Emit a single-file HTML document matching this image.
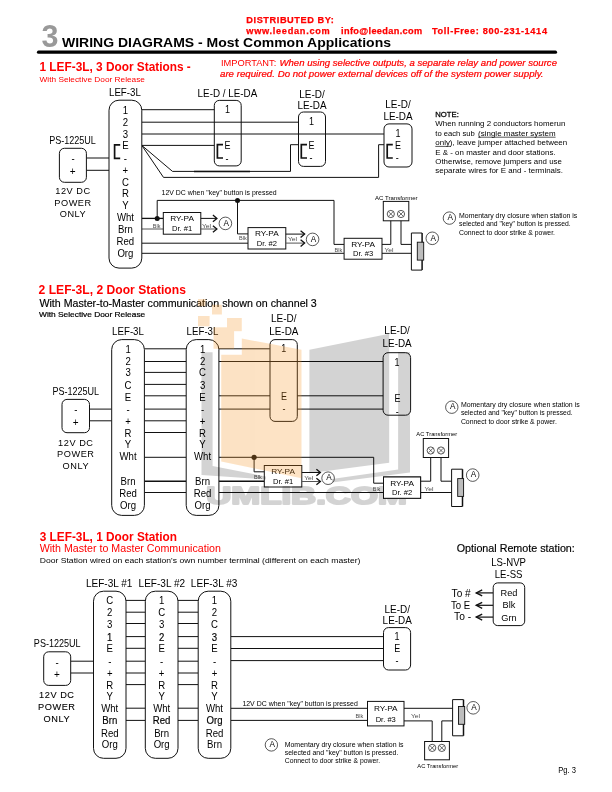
<!DOCTYPE html>
<html><head><meta charset="utf-8"><style>
html,body{margin:0;padding:0;background:#fff;}
svg{display:block;will-change:transform;}
text{font-family:"Liberation Sans", sans-serif;}
</style></head><body>
<svg width="612" height="792" viewBox="0 0 612 792" font-family='"Liberation Sans", sans-serif'>
<rect x="0" y="0" width="612" height="792" fill="#fff"/>
<text x="41.5" y="47.4" font-size="30.5" font-weight="bold" fill="#999">3</text>
<text x="62" y="46.8" font-size="13.4" font-weight="bold" textLength="329" lengthAdjust="spacingAndGlyphs">WIRING DIAGRAMS - Most Common Applications</text>
<line x1="38.5" y1="52.2" x2="555.5" y2="52.2" stroke="#000" stroke-width="3.2" stroke-linecap="round"/>
<text x="246.3" y="22.8" font-size="9.2" stroke="#ff0000" stroke-width="0.25" font-weight="bold" fill="#ff0000" textLength="87.6" lengthAdjust="spacing">DISTRIBUTED BY:</text>
<text x="246.3" y="33.7" font-size="9.2" stroke="#ff0000" stroke-width="0.25" font-weight="bold" fill="#ff0000" textLength="83.4" lengthAdjust="spacing">www.leedan.com</text>
<text x="341.1" y="33.7" font-size="9.2" stroke="#ff0000" stroke-width="0.25" font-weight="bold" fill="#ff0000" textLength="81" lengthAdjust="spacing">info@leedan.com</text>
<text x="432" y="33.7" font-size="9.2" stroke="#ff0000" stroke-width="0.25" font-weight="bold" fill="#ff0000" textLength="115" lengthAdjust="spacing">Toll-Free: 800-231-1414</text>
<text x="39.5" y="71" font-size="12.6" font-weight="bold" fill="#ff0000" textLength="151.3" lengthAdjust="spacingAndGlyphs">1 LEF-3L, 3 Door Stations -</text>
<text x="39.5" y="81.6" font-size="6.6" fill="#ff0000" textLength="105.5" lengthAdjust="spacingAndGlyphs">With Selective Door Release</text>
<text x="220.9" y="65.6" font-size="8.4" fill="#ff0000" textLength="55.4" lengthAdjust="spacingAndGlyphs">IMPORTANT:</text>
<text x="279.5" y="65.6" font-size="8.4" stroke="#ff0000" stroke-width="0.2" fill="#ff0000" font-style="italic" textLength="277.5" lengthAdjust="spacingAndGlyphs">When using selective outputs, a separate relay and power source</text>
<text x="220" y="77.3" font-size="8.4" stroke="#ff0000" stroke-width="0.2" fill="#ff0000" font-style="italic" textLength="323.5" lengthAdjust="spacingAndGlyphs">are required. Do not power external devices off of the system power supply.</text>
<line x1="86.4" y1="158" x2="109" y2="158" stroke="#111" stroke-width="1"/>
<line x1="86.4" y1="170.3" x2="109" y2="170.3" stroke="#111" stroke-width="1"/>
<line x1="141.8" y1="109.7" x2="214.3" y2="109.7" stroke="#111" stroke-width="1"/>
<line x1="141.8" y1="122.2" x2="298.5" y2="122.2" stroke="#111" stroke-width="1"/>
<line x1="141.8" y1="134" x2="384" y2="134" stroke="#111" stroke-width="1"/>
<line x1="141.8" y1="145.4" x2="214.3" y2="145.4" stroke="#111" stroke-width="1"/>
<polyline points="141.8,145.4 172.5,171.4 290.5,171.4 290.5,144.7 298.5,144.7" fill="none" stroke="#111" stroke-width="1" stroke-linejoin="miter"/>
<line x1="194" y1="171.4" x2="250" y2="171.4" stroke="#111" stroke-width="1.5"/>
<polyline points="141.8,145.4 163.5,177.4 378.6,177.4 378.6,144.7 384,144.7" fill="none" stroke="#111" stroke-width="1" stroke-linejoin="miter"/>
<polyline points="157.2,218.4 157.2,200.4 334,200.4 334,244.4 344.1,244.4" fill="none" stroke="#111" stroke-width="1" stroke-linejoin="miter"/>
<polyline points="237.5,200.4 237.5,233.9 248,233.9" fill="none" stroke="#111" stroke-width="1" stroke-linejoin="miter"/>
<line x1="141.8" y1="218.4" x2="163.3" y2="218.4" stroke="#111" stroke-width="1.3"/>
<line x1="141.8" y1="229" x2="163.3" y2="229" stroke="#555" stroke-width="1"/>
<line x1="141.8" y1="243.2" x2="248" y2="243.2" stroke="#111" stroke-width="1"/>
<line x1="141.8" y1="253.3" x2="344.1" y2="253.3" stroke="#111" stroke-width="1"/>
<circle cx="157.2" cy="218.4" r="2.5" fill="#111"/>
<circle cx="237.5" cy="200.4" r="2.5" fill="#111"/>
<rect x="109" y="100.2" width="32.8" height="167.9" rx="10" fill="#fff" stroke="#111" stroke-width="1"/>
<text transform="translate(125.4,113.59) scale(1,1.07)" x="0" y="0" font-size="9.6" text-anchor="middle">1</text>
<text transform="translate(125.4,125.89) scale(1,1.07)" x="0" y="0" font-size="9.6" text-anchor="middle">2</text>
<text transform="translate(125.4,137.59) scale(1,1.07)" x="0" y="0" font-size="9.6" text-anchor="middle">3</text>
<text transform="translate(125.4,149.09) scale(1,1.07)" x="0" y="0" font-size="9.6" text-anchor="middle">E</text>
<text transform="translate(125.4,162.09) scale(1,1.07)" x="0" y="0" font-size="9.6" text-anchor="middle">-</text>
<text transform="translate(125.4,174.39) scale(1,1.07)" x="0" y="0" font-size="9.6" text-anchor="middle">+</text>
<text transform="translate(125.4,185.99) scale(1,1.07)" x="0" y="0" font-size="9.6" text-anchor="middle">C</text>
<text transform="translate(125.4,197.49) scale(1,1.07)" x="0" y="0" font-size="9.6" text-anchor="middle">R</text>
<text transform="translate(125.4,208.99) scale(1,1.07)" x="0" y="0" font-size="9.6" text-anchor="middle">Y</text>
<text transform="translate(125.4,221.19) scale(1,1.07)" x="0" y="0" font-size="9.6" text-anchor="middle">Wht</text>
<text transform="translate(125.4,233.49) scale(1,1.07)" x="0" y="0" font-size="9.6" text-anchor="middle">Brn</text>
<text transform="translate(125.4,245.29) scale(1,1.07)" x="0" y="0" font-size="9.6" text-anchor="middle">Red</text>
<text transform="translate(125.4,257.49) scale(1,1.07)" x="0" y="0" font-size="9.6" text-anchor="middle">Org</text>
<polyline points="120.2,144.8 114.6,144.8 114.6,158.3 120.2,158.3" fill="none" stroke="#111" stroke-width="1.7" stroke-linejoin="miter"/>
<text transform="translate(124.9,95.83) scale(1,1.14)" x="0" y="0" font-size="9.6" text-anchor="middle" textLength="31.8" lengthAdjust="spacingAndGlyphs">LEF-3L</text>
<rect x="59.4" y="148.3" width="27.0" height="34.0" rx="5" fill="#fff" stroke="#111" stroke-width="1"/>
<text transform="translate(73,162.03) scale(1,1.14)" x="0" y="0" font-size="9.6" text-anchor="middle">-</text>
<text transform="translate(72.6,175.28) scale(1,1.14)" x="0" y="0" font-size="10" text-anchor="middle">+</text>
<text transform="translate(72.5,144.34) scale(1,1.12)" x="0" y="0" font-size="9.8" text-anchor="middle" textLength="46.7" lengthAdjust="spacingAndGlyphs">PS-1225UL</text>
<text transform="translate(73,193.65) scale(1,1.04)" x="0" y="0" font-size="9.2" text-anchor="middle" letter-spacing="0.55">12V DC</text>
<text transform="translate(73,205.55) scale(1,1.04)" x="0" y="0" font-size="9.2" text-anchor="middle" letter-spacing="0.55">POWER</text>
<text transform="translate(73,217.05) scale(1,1.04)" x="0" y="0" font-size="9.2" text-anchor="middle" letter-spacing="0.55">ONLY</text>
<rect x="214.3" y="100.4" width="26.9" height="65.5" rx="5" fill="none" stroke="#111" stroke-width="1"/>
<text transform="translate(227.5,112.79) scale(1,1.14)" x="0" y="0" font-size="9" text-anchor="middle">1</text>
<text transform="translate(227.6,149.09) scale(1,1.14)" x="0" y="0" font-size="9" text-anchor="middle">E</text>
<text transform="translate(227,161.59) scale(1,1.14)" x="0" y="0" font-size="9" text-anchor="middle">-</text>
<polyline points="223,144.6 217.4,144.6 217.4,158 223,158" fill="none" stroke="#111" stroke-width="1.7" stroke-linejoin="miter"/>
<text transform="translate(227.4,96.83) scale(1,1.14)" x="0" y="0" font-size="9.6" text-anchor="middle" textLength="59.6" lengthAdjust="spacingAndGlyphs">LE-D / LE-DA</text>
<rect x="298.5" y="112" width="27.0" height="54.4" rx="5" fill="none" stroke="#111" stroke-width="1"/>
<text transform="translate(311.6,125.29) scale(1,1.14)" x="0" y="0" font-size="9" text-anchor="middle">1</text>
<text transform="translate(311.4,148.79) scale(1,1.14)" x="0" y="0" font-size="9" text-anchor="middle">E</text>
<text transform="translate(311,161.09) scale(1,1.14)" x="0" y="0" font-size="9" text-anchor="middle">-</text>
<polyline points="307,144.6 301.3,144.6 301.3,158 307,158" fill="none" stroke="#111" stroke-width="1.7" stroke-linejoin="miter"/>
<text transform="translate(312,98.33) scale(1,1.14)" x="0" y="0" font-size="9.6" text-anchor="middle" textLength="25.5" lengthAdjust="spacingAndGlyphs">LE-D/</text>
<text transform="translate(312,109.43) scale(1,1.14)" x="0" y="0" font-size="9.6" text-anchor="middle" textLength="29.2" lengthAdjust="spacingAndGlyphs">LE-DA</text>
<rect x="384" y="123.9" width="28" height="43.1" rx="5" fill="none" stroke="#111" stroke-width="1"/>
<text transform="translate(398,136.89) scale(1,1.14)" x="0" y="0" font-size="9" text-anchor="middle">1</text>
<text transform="translate(397.9,149.29) scale(1,1.14)" x="0" y="0" font-size="9" text-anchor="middle">E</text>
<text transform="translate(397.3,161.49) scale(1,1.14)" x="0" y="0" font-size="9" text-anchor="middle">-</text>
<polyline points="392.8,144.6 387.2,144.6 387.2,158 392.8,158" fill="none" stroke="#111" stroke-width="1.7" stroke-linejoin="miter"/>
<text transform="translate(398,107.83) scale(1,1.14)" x="0" y="0" font-size="9.6" text-anchor="middle" textLength="25.5" lengthAdjust="spacingAndGlyphs">LE-D/</text>
<text transform="translate(398,119.73) scale(1,1.14)" x="0" y="0" font-size="9.6" text-anchor="middle" textLength="29.2" lengthAdjust="spacingAndGlyphs">LE-DA</text>
<text transform="translate(435.3,116.9) scale(1,1.075)" x="0" y="0" font-size="7.3" stroke="#000" stroke-width="0.25" textLength="23.5" lengthAdjust="spacingAndGlyphs">NOTE:</text>
<text transform="translate(435.3,126) scale(1,1.075)" x="0" y="0" font-size="7.3" textLength="130" lengthAdjust="spacingAndGlyphs">When running 2 conductors homerun</text>
<text transform="translate(435.3,136.1) scale(1,1.075)" x="0" y="0" font-size="7.3" textLength="39.5" lengthAdjust="spacingAndGlyphs">to each sub</text>
<text transform="translate(478.1,136.1) scale(1,1.075)" x="0" y="0" font-size="7.3" textLength="77.5" lengthAdjust="spacingAndGlyphs">(single master system</text>
<line x1="478.1" y1="137.2" x2="555.6" y2="137.2" stroke="#111" stroke-width="0.7"/>
<text transform="translate(435.3,145.4) scale(1,1.075)" x="0" y="0" font-size="7.3" textLength="131.9" lengthAdjust="spacingAndGlyphs">only), leave jumper attached between</text>
<line x1="435.3" y1="146.4" x2="450.9" y2="146.4" stroke="#111" stroke-width="0.7"/>
<text transform="translate(435.3,154.7) scale(1,1.075)" x="0" y="0" font-size="7.3" textLength="120.3" lengthAdjust="spacingAndGlyphs">E &amp; - on master and door stations.</text>
<text transform="translate(435.3,164) scale(1,1.075)" x="0" y="0" font-size="7.3" textLength="126.6" lengthAdjust="spacingAndGlyphs">Otherwise, remove jumpers and use</text>
<text transform="translate(435.3,173.3) scale(1,1.075)" x="0" y="0" font-size="7.3" textLength="127.7" lengthAdjust="spacingAndGlyphs">separate wires for E and - terminals.</text>
<text x="161.6" y="195.2" font-size="6.3" textLength="115" lengthAdjust="spacingAndGlyphs">12V DC when "key" button is pressed</text>
<rect x="163.3" y="212.5" width="37.5" height="21.7" rx="0" fill="#fff" stroke="#111" stroke-width="1"/>
<text x="182.05" y="221.18" font-size="7.6" text-anchor="middle" textLength="23.7" lengthAdjust="spacingAndGlyphs">RY-PA</text>
<text x="182.05" y="230.73" font-size="7.6" text-anchor="middle" textLength="20.2" lengthAdjust="spacingAndGlyphs">Dr. #1</text>
<line x1="200.8" y1="218.4" x2="216.9" y2="218.4" stroke="#111" stroke-width="1"/>
<polyline points="212.9,215.1 216.9,218.4 212.9,221.70000000000002" fill="none" stroke="#111" stroke-width="1.3" stroke-linejoin="miter"/>
<line x1="200.8" y1="229" x2="216.9" y2="229" stroke="#555" stroke-width="1"/>
<polyline points="212.9,225.7 216.9,229 212.9,232.3" fill="none" stroke="#111" stroke-width="1.3" stroke-linejoin="miter"/>
<text x="152.8" y="227.7" font-size="5.8" fill="#4a4a4a" textLength="7.7" lengthAdjust="spacingAndGlyphs">Blk</text>
<text x="202" y="227.7" font-size="5.8" fill="#4a4a4a" textLength="9.1" lengthAdjust="spacingAndGlyphs">Yel</text>
<circle cx="225.4" cy="223.4" r="6.3" fill="#fff" stroke="#111" stroke-width="0.7"/>
<text x="226.3" y="225.68" font-size="8.2" text-anchor="middle">A</text>
<rect x="248" y="227.6" width="37.8" height="21.4" rx="0" fill="#fff" stroke="#111" stroke-width="1"/>
<text x="266.9" y="236.16" font-size="7.6" text-anchor="middle" textLength="23.7" lengthAdjust="spacingAndGlyphs">RY-PA</text>
<text x="266.9" y="245.58" font-size="7.6" text-anchor="middle" textLength="20.2" lengthAdjust="spacingAndGlyphs">Dr. #2</text>
<line x1="285.8" y1="234.1" x2="304.6" y2="234.1" stroke="#111" stroke-width="1"/>
<polyline points="300.6,230.79999999999998 304.6,234.1 300.6,237.4" fill="none" stroke="#111" stroke-width="1.3" stroke-linejoin="miter"/>
<line x1="285.8" y1="243.1" x2="304.6" y2="243.1" stroke="#555" stroke-width="1"/>
<polyline points="300.6,239.79999999999998 304.6,243.1 300.6,246.4" fill="none" stroke="#111" stroke-width="1.3" stroke-linejoin="miter"/>
<text x="239" y="240" font-size="5.8" fill="#4a4a4a" textLength="7.7" lengthAdjust="spacingAndGlyphs">Blk</text>
<text x="288" y="240.8" font-size="5.8" fill="#4a4a4a" textLength="9.1" lengthAdjust="spacingAndGlyphs">Yel</text>
<circle cx="312.6" cy="239.4" r="6.3" fill="#fff" stroke="#111" stroke-width="0.7"/>
<text x="313.5" y="241.68" font-size="8.2" text-anchor="middle">A</text>
<rect x="344.1" y="238.3" width="37.9" height="20.9" rx="0" fill="#fff" stroke="#111" stroke-width="1"/>
<text x="363.05" y="246.66" font-size="7.6" text-anchor="middle" textLength="23.7" lengthAdjust="spacingAndGlyphs">RY-PA</text>
<text x="363.05" y="255.86" font-size="7.6" text-anchor="middle" textLength="20.2" lengthAdjust="spacingAndGlyphs">Dr. #3</text>
<text x="334.5" y="251.5" font-size="5.8" fill="#4a4a4a" textLength="7.7" lengthAdjust="spacingAndGlyphs">Blk</text>
<text x="384.5" y="251.5" font-size="5.8" fill="#4a4a4a" textLength="9.1" lengthAdjust="spacingAndGlyphs">Yel</text>
<polyline points="382,244.4 390.8,244.4 390.8,217.6" fill="none" stroke="#111" stroke-width="1" stroke-linejoin="miter"/>
<polyline points="401,217.6 401,244.4 411.4,244.4" fill="none" stroke="#111" stroke-width="1" stroke-linejoin="miter"/>
<line x1="382" y1="253.3" x2="411.4" y2="253.3" stroke="#111" stroke-width="1"/>
<rect x="383.3" y="201.4" width="25.5" height="19.4" rx="0" fill="#fff" stroke="#111" stroke-width="1"/>
<circle cx="390.8" cy="214" r="3.6" fill="#fff" stroke="#111" stroke-width="0.7"/>
<line x1="388.568" y1="211.768" x2="393.03200000000004" y2="216.232" stroke="#111" stroke-width="0.6"/>
<line x1="388.568" y1="216.232" x2="393.03200000000004" y2="211.768" stroke="#111" stroke-width="0.6"/>
<circle cx="401" cy="214" r="3.6" fill="#fff" stroke="#111" stroke-width="0.7"/>
<line x1="398.768" y1="211.768" x2="403.232" y2="216.232" stroke="#111" stroke-width="0.6"/>
<line x1="398.768" y1="216.232" x2="403.232" y2="211.768" stroke="#111" stroke-width="0.6"/>
<text x="375" y="199.6" font-size="5.8" textLength="42.6" lengthAdjust="spacingAndGlyphs">AC Transformer</text>
<polyline points="411.4,233 422.1,233" fill="none" stroke="#111" stroke-width="1" stroke-linejoin="miter"/>
<polyline points="411.4,270.1 422.1,270.1" fill="none" stroke="#111" stroke-width="1" stroke-linejoin="miter"/>
<line x1="411.4" y1="233" x2="411.4" y2="270.1" stroke="#111" stroke-width="1"/>
<line x1="422.1" y1="233" x2="422.1" y2="270.1" stroke="#111" stroke-width="1.5"/>
<rect x="417.3" y="242.2" width="6.4" height="17.9" rx="0" fill="#bdbdbd" stroke="#111" stroke-width="0.9"/>
<circle cx="432.3" cy="238.3" r="6.3" fill="#fff" stroke="#111" stroke-width="0.7"/>
<text x="433.2" y="240.58" font-size="8.2" text-anchor="middle">A</text>
<circle cx="449.4" cy="218.1" r="6.2" fill="#fff" stroke="#111" stroke-width="0.7"/>
<text x="450.29999999999995" y="220.38" font-size="8.2" text-anchor="middle">A</text>
<text transform="translate(459,218.1) scale(1,1.14)" x="0" y="0" font-size="7" textLength="118.3" lengthAdjust="spacingAndGlyphs">Momentary dry closure when station is</text>
<text transform="translate(459,225.9) scale(1,1.14)" x="0" y="0" font-size="7" textLength="111.7" lengthAdjust="spacingAndGlyphs">selected and "key" button is pressed.</text>
<text transform="translate(459,234.8) scale(1,1.14)" x="0" y="0" font-size="7" textLength="96" lengthAdjust="spacingAndGlyphs">Connect to door strike &amp; power.</text>
<text x="38.6" y="294" font-size="12.6" font-weight="bold" fill="#ff0000" textLength="147.3" lengthAdjust="spacingAndGlyphs">2 LEF-3L, 2 Door Stations</text>
<text transform="translate(39.4,307) scale(1,1.07)" x="0" y="0" font-size="9.6" stroke="#000" stroke-width="0.15" textLength="277.4" lengthAdjust="spacingAndGlyphs">With Master-to-Master communication shown on channel 3</text>
<text transform="translate(39,316.8) scale(1,1.14)" x="0" y="0" font-size="6.6" stroke="#000" stroke-width="0.18" textLength="106.2" lengthAdjust="spacingAndGlyphs">With Selective Door Release</text>
<line x1="89.5" y1="409.1" x2="111.7" y2="409.1" stroke="#111" stroke-width="1"/>
<line x1="89.5" y1="420.8" x2="111.7" y2="420.8" stroke="#111" stroke-width="1"/>
<line x1="144.4" y1="348.8" x2="186.2" y2="348.8" stroke="#111" stroke-width="1"/>
<line x1="144.4" y1="361.5" x2="186.2" y2="361.5" stroke="#111" stroke-width="1"/>
<line x1="144.4" y1="372.4" x2="186.2" y2="372.4" stroke="#111" stroke-width="1"/>
<line x1="144.4" y1="384.4" x2="186.2" y2="384.4" stroke="#111" stroke-width="1"/>
<line x1="144.4" y1="395.8" x2="186.2" y2="395.8" stroke="#111" stroke-width="1"/>
<line x1="144.4" y1="409.1" x2="186.2" y2="409.1" stroke="#111" stroke-width="1"/>
<line x1="144.4" y1="420.8" x2="186.2" y2="420.8" stroke="#111" stroke-width="1"/>
<line x1="144.4" y1="432.5" x2="186.2" y2="432.5" stroke="#111" stroke-width="1"/>
<line x1="218.9" y1="348.8" x2="269.8" y2="348.8" stroke="#111" stroke-width="1"/>
<line x1="218.9" y1="361.5" x2="383.1" y2="361.5" stroke="#111" stroke-width="1"/>
<line x1="218.9" y1="395.8" x2="270" y2="395.8" stroke="#111" stroke-width="1"/>
<line x1="297.3" y1="395.8" x2="383.1" y2="395.8" stroke="#111" stroke-width="1"/>
<line x1="218.9" y1="409.1" x2="270" y2="409.1" stroke="#111" stroke-width="1"/>
<line x1="297.3" y1="409.1" x2="383.1" y2="409.1" stroke="#111" stroke-width="1"/>
<line x1="144.4" y1="457.3" x2="186.2" y2="457.3" stroke="#111" stroke-width="1"/>
<polyline points="218.9,457.3 373.7,457.3 373.7,483.2 383.5,483.2" fill="none" stroke="#111" stroke-width="1" stroke-linejoin="miter"/>
<polyline points="254.1,457.3 254.1,471.8 264.3,471.8" fill="none" stroke="#111" stroke-width="1" stroke-linejoin="miter"/>
<circle cx="254.1" cy="457.3" r="2.6" fill="#111"/>
<line x1="144.4" y1="481.2" x2="186.2" y2="481.2" stroke="#111" stroke-width="1.4"/>
<line x1="218.9" y1="481.2" x2="264.3" y2="481.2" stroke="#111" stroke-width="1.4"/>
<line x1="144.4" y1="492.5" x2="186.2" y2="492.5" stroke="#111" stroke-width="1"/>
<line x1="218.9" y1="492.5" x2="383.5" y2="492.5" stroke="#111" stroke-width="1"/>
<rect x="111.7" y="339.6" width="32.7" height="175.8" rx="10" fill="#fff" stroke="#111" stroke-width="1"/>
<text transform="translate(128.05,352.89) scale(1,1.07)" x="0" y="0" font-size="9.6" text-anchor="middle">1</text>
<text transform="translate(128.05,364.89) scale(1,1.07)" x="0" y="0" font-size="9.6" text-anchor="middle">2</text>
<text transform="translate(128.05,376.39) scale(1,1.07)" x="0" y="0" font-size="9.6" text-anchor="middle">3</text>
<text transform="translate(128.05,388.79) scale(1,1.07)" x="0" y="0" font-size="9.6" text-anchor="middle">C</text>
<text transform="translate(128.05,400.89) scale(1,1.07)" x="0" y="0" font-size="9.6" text-anchor="middle">E</text>
<text transform="translate(128.05,412.99) scale(1,1.07)" x="0" y="0" font-size="9.6" text-anchor="middle">-</text>
<text transform="translate(128.05,425.39) scale(1,1.07)" x="0" y="0" font-size="9.6" text-anchor="middle">+</text>
<text transform="translate(128.05,436.69) scale(1,1.07)" x="0" y="0" font-size="9.6" text-anchor="middle">R</text>
<text transform="translate(128.05,448.49) scale(1,1.07)" x="0" y="0" font-size="9.6" text-anchor="middle">Y</text>
<text transform="translate(128.05,460.49) scale(1,1.07)" x="0" y="0" font-size="9.6" text-anchor="middle">Wht</text>
<text transform="translate(128.05,484.89) scale(1,1.07)" x="0" y="0" font-size="9.6" text-anchor="middle">Brn</text>
<text transform="translate(128.05,496.69) scale(1,1.07)" x="0" y="0" font-size="9.6" text-anchor="middle">Red</text>
<text transform="translate(128.05,509.09) scale(1,1.07)" x="0" y="0" font-size="9.6" text-anchor="middle">Org</text>
<text transform="translate(128,334.73) scale(1,1.14)" x="0" y="0" font-size="9.6" text-anchor="middle" textLength="31.8" lengthAdjust="spacingAndGlyphs">LEF-3L</text>
<rect x="186.2" y="339.6" width="32.7" height="175.8" rx="10" fill="#fff" stroke="#111" stroke-width="1"/>
<text transform="translate(202.55,352.89) scale(1,1.07)" x="0" y="0" font-size="9.6" text-anchor="middle">1</text>
<text transform="translate(202.55,364.89) scale(1,1.07)" x="0" y="0" font-size="9.6" text-anchor="middle">2</text>
<text transform="translate(202.55,376.39) scale(1,1.07)" x="0" y="0" font-size="9.6" text-anchor="middle">C</text>
<text transform="translate(202.55,388.79) scale(1,1.07)" x="0" y="0" font-size="9.6" text-anchor="middle">3</text>
<text transform="translate(202.55,400.89) scale(1,1.07)" x="0" y="0" font-size="9.6" text-anchor="middle">E</text>
<text transform="translate(202.55,412.99) scale(1,1.07)" x="0" y="0" font-size="9.6" text-anchor="middle">-</text>
<text transform="translate(202.55,425.39) scale(1,1.07)" x="0" y="0" font-size="9.6" text-anchor="middle">+</text>
<text transform="translate(202.55,436.69) scale(1,1.07)" x="0" y="0" font-size="9.6" text-anchor="middle">R</text>
<text transform="translate(202.55,448.49) scale(1,1.07)" x="0" y="0" font-size="9.6" text-anchor="middle">Y</text>
<text transform="translate(202.55,460.49) scale(1,1.07)" x="0" y="0" font-size="9.6" text-anchor="middle">Wht</text>
<text transform="translate(202.55,484.89) scale(1,1.07)" x="0" y="0" font-size="9.6" text-anchor="middle">Brn</text>
<text transform="translate(202.55,496.69) scale(1,1.07)" x="0" y="0" font-size="9.6" text-anchor="middle">Red</text>
<text transform="translate(202.55,509.09) scale(1,1.07)" x="0" y="0" font-size="9.6" text-anchor="middle">Org</text>
<text transform="translate(202.5,334.73) scale(1,1.14)" x="0" y="0" font-size="9.6" text-anchor="middle" textLength="31.8" lengthAdjust="spacingAndGlyphs">LEF-3L</text>
<rect x="62" y="399.4" width="27.5" height="33.3" rx="5" fill="#fff" stroke="#111" stroke-width="1"/>
<text transform="translate(75.8,413.03) scale(1,1.14)" x="0" y="0" font-size="9.6" text-anchor="middle">-</text>
<text transform="translate(75.6,426.28) scale(1,1.14)" x="0" y="0" font-size="10" text-anchor="middle">+</text>
<text transform="translate(75.8,395.04) scale(1,1.12)" x="0" y="0" font-size="9.8" text-anchor="middle" textLength="46.7" lengthAdjust="spacingAndGlyphs">PS-1225UL</text>
<text transform="translate(75.8,445.55) scale(1,1.04)" x="0" y="0" font-size="9.2" text-anchor="middle" letter-spacing="0.55">12V DC</text>
<text transform="translate(75.8,457.05) scale(1,1.04)" x="0" y="0" font-size="9.2" text-anchor="middle" letter-spacing="0.55">POWER</text>
<text transform="translate(75.8,469.05) scale(1,1.04)" x="0" y="0" font-size="9.2" text-anchor="middle" letter-spacing="0.55">ONLY</text>
<rect x="270" y="339.6" width="27.3" height="81.8" rx="5" fill="none" stroke="#111" stroke-width="1"/>
<text transform="translate(283.8,352.09) scale(1,1.14)" x="0" y="0" font-size="9" text-anchor="middle">1</text>
<text transform="translate(284,400.09) scale(1,1.14)" x="0" y="0" font-size="9" text-anchor="middle">E</text>
<text transform="translate(284,412.19) scale(1,1.14)" x="0" y="0" font-size="9" text-anchor="middle">-</text>
<text transform="translate(283.8,322.03) scale(1,1.14)" x="0" y="0" font-size="9.6" text-anchor="middle" textLength="25.5" lengthAdjust="spacingAndGlyphs">LE-D/</text>
<text transform="translate(283.8,334.73) scale(1,1.14)" x="0" y="0" font-size="9.6" text-anchor="middle" textLength="29.2" lengthAdjust="spacingAndGlyphs">LE-DA</text>
<rect x="383.1" y="352.7" width="27.5" height="62.5" rx="5" fill="none" stroke="#111" stroke-width="1"/>
<text transform="translate(397,366.49) scale(1,1.14)" x="0" y="0" font-size="9" text-anchor="middle">1</text>
<text transform="translate(397.5,402.09) scale(1,1.14)" x="0" y="0" font-size="9" text-anchor="middle">E</text>
<text transform="translate(397.2,414.79) scale(1,1.14)" x="0" y="0" font-size="9" text-anchor="middle">-</text>
<text transform="translate(397.1,334.33) scale(1,1.14)" x="0" y="0" font-size="9.6" text-anchor="middle" textLength="25.5" lengthAdjust="spacingAndGlyphs">LE-D/</text>
<text transform="translate(397.1,346.63) scale(1,1.14)" x="0" y="0" font-size="9.6" text-anchor="middle" textLength="29.2" lengthAdjust="spacingAndGlyphs">LE-DA</text>
<rect x="264.3" y="465.5" width="37.5" height="21.5" rx="0" fill="#fff" stroke="#111" stroke-width="1"/>
<text x="283.05" y="474.1" font-size="7.6" text-anchor="middle" textLength="23.7" lengthAdjust="spacingAndGlyphs">RY-PA</text>
<text x="283.05" y="483.56" font-size="7.6" text-anchor="middle" textLength="20.2" lengthAdjust="spacingAndGlyphs">Dr. #1</text>
<line x1="301.8" y1="472.5" x2="320.4" y2="472.5" stroke="#111" stroke-width="1"/>
<polyline points="316.4,469.2 320.4,472.5 316.4,475.8" fill="none" stroke="#111" stroke-width="1.3" stroke-linejoin="miter"/>
<line x1="301.8" y1="481.5" x2="320.4" y2="481.5" stroke="#555" stroke-width="1"/>
<polyline points="316.4,478.2 320.4,481.5 316.4,484.8" fill="none" stroke="#111" stroke-width="1.3" stroke-linejoin="miter"/>
<text x="254.1" y="479.2" font-size="5.8" fill="#4a4a4a" textLength="7.7" lengthAdjust="spacingAndGlyphs">Blk</text>
<text x="304.2" y="479.7" font-size="5.8" fill="#4a4a4a" textLength="9.1" lengthAdjust="spacingAndGlyphs">Yel</text>
<circle cx="328.1" cy="478.2" r="6.3" fill="#fff" stroke="#111" stroke-width="0.7"/>
<text x="329.0" y="480.48" font-size="8.2" text-anchor="middle">A</text>
<rect x="383.5" y="477" width="37.1" height="21.3" rx="0" fill="#fff" stroke="#111" stroke-width="1"/>
<text x="402.05" y="485.52" font-size="7.6" text-anchor="middle" textLength="23.7" lengthAdjust="spacingAndGlyphs">RY-PA</text>
<text x="402.05" y="494.89" font-size="7.6" text-anchor="middle" textLength="20.2" lengthAdjust="spacingAndGlyphs">Dr. #2</text>
<text x="372.7" y="490.5" font-size="5.8" fill="#4a4a4a" textLength="7.7" lengthAdjust="spacingAndGlyphs">Blk</text>
<text x="424.4" y="490.8" font-size="5.8" fill="#4a4a4a" textLength="9.1" lengthAdjust="spacingAndGlyphs">Yel</text>
<polyline points="420.6,481.2 430.7,481.2 430.7,454.2" fill="none" stroke="#111" stroke-width="1" stroke-linejoin="miter"/>
<polyline points="441,454.2 441,481.2 451.6,481.2" fill="none" stroke="#111" stroke-width="1" stroke-linejoin="miter"/>
<line x1="420.6" y1="492.5" x2="451.6" y2="492.5" stroke="#111" stroke-width="1"/>
<rect x="423.3" y="438.5" width="25.3" height="19.0" rx="0" fill="#fff" stroke="#111" stroke-width="1"/>
<circle cx="430.7" cy="450.5" r="3.6" fill="#fff" stroke="#111" stroke-width="0.7"/>
<line x1="428.46799999999996" y1="448.268" x2="432.932" y2="452.732" stroke="#111" stroke-width="0.6"/>
<line x1="428.46799999999996" y1="452.732" x2="432.932" y2="448.268" stroke="#111" stroke-width="0.6"/>
<circle cx="441" cy="450.5" r="3.6" fill="#fff" stroke="#111" stroke-width="0.7"/>
<line x1="438.768" y1="448.268" x2="443.232" y2="452.732" stroke="#111" stroke-width="0.6"/>
<line x1="438.768" y1="452.732" x2="443.232" y2="448.268" stroke="#111" stroke-width="0.6"/>
<text x="416.3" y="435.9" font-size="5.8" textLength="41" lengthAdjust="spacingAndGlyphs">AC Transformer</text>
<polyline points="451.6,469.2 462.5,469.2" fill="none" stroke="#111" stroke-width="1" stroke-linejoin="miter"/>
<polyline points="451.6,506.5 462.5,506.5" fill="none" stroke="#111" stroke-width="1" stroke-linejoin="miter"/>
<line x1="451.6" y1="469.2" x2="451.6" y2="506.5" stroke="#111" stroke-width="1"/>
<line x1="462.5" y1="469.2" x2="462.5" y2="506.5" stroke="#111" stroke-width="1.5"/>
<rect x="457.7" y="478.6" width="5.9" height="17.8" rx="0" fill="#bdbdbd" stroke="#111" stroke-width="0.9"/>
<circle cx="472.7" cy="475.1" r="6.3" fill="#fff" stroke="#111" stroke-width="0.7"/>
<text x="473.59999999999997" y="477.38" font-size="8.2" text-anchor="middle">A</text>
<circle cx="451.8" cy="407.2" r="6.2" fill="#fff" stroke="#111" stroke-width="0.7"/>
<text x="452.7" y="409.48" font-size="8.2" text-anchor="middle">A</text>
<text transform="translate(460.9,407.4) scale(1,1.14)" x="0" y="0" font-size="7" textLength="118.8" lengthAdjust="spacingAndGlyphs">Momentary dry closure when station is</text>
<text transform="translate(460.9,414.9) scale(1,1.14)" x="0" y="0" font-size="7" textLength="111.7" lengthAdjust="spacingAndGlyphs">selected and "key" button is pressed.</text>
<text transform="translate(460.9,423.8) scale(1,1.14)" x="0" y="0" font-size="7" textLength="96" lengthAdjust="spacingAndGlyphs">Connect to door strike &amp; power.</text>
<text x="39.7" y="540.8" font-size="12.6" font-weight="bold" fill="#ff0000" textLength="137.3" lengthAdjust="spacingAndGlyphs">3 LEF-3L, 1 Door Station</text>
<text transform="translate(39.7,552.2) scale(1,1.03)" x="0" y="0" font-size="10" fill="#ff0000" textLength="181.2" lengthAdjust="spacingAndGlyphs">With Master to Master Communication</text>
<text transform="translate(39.7,562.5) scale(1,1.14)" x="0" y="0" font-size="7" textLength="320.7" lengthAdjust="spacingAndGlyphs">Door Station wired on each station's own number terminal (different on each master)</text>
<line x1="70.7" y1="661.2" x2="93.5" y2="661.2" stroke="#111" stroke-width="1"/>
<line x1="70.7" y1="673" x2="93.5" y2="673" stroke="#111" stroke-width="1"/>
<line x1="126" y1="600.4" x2="145.3" y2="600.4" stroke="#111" stroke-width="1"/>
<line x1="178" y1="600.4" x2="198.2" y2="600.4" stroke="#111" stroke-width="1"/>
<line x1="126" y1="612.2" x2="145.3" y2="612.2" stroke="#111" stroke-width="1"/>
<line x1="178" y1="612.2" x2="198.2" y2="612.2" stroke="#111" stroke-width="1"/>
<line x1="126" y1="623.5" x2="145.3" y2="623.5" stroke="#111" stroke-width="1"/>
<line x1="178" y1="623.5" x2="198.2" y2="623.5" stroke="#111" stroke-width="1"/>
<line x1="126" y1="636.6" x2="145.3" y2="636.6" stroke="#111" stroke-width="1"/>
<line x1="178" y1="636.6" x2="198.2" y2="636.6" stroke="#111" stroke-width="1"/>
<line x1="126" y1="648.3" x2="145.3" y2="648.3" stroke="#111" stroke-width="1"/>
<line x1="178" y1="648.3" x2="198.2" y2="648.3" stroke="#111" stroke-width="1"/>
<line x1="126" y1="661.2" x2="145.3" y2="661.2" stroke="#111" stroke-width="1"/>
<line x1="178" y1="661.2" x2="198.2" y2="661.2" stroke="#111" stroke-width="1"/>
<line x1="126" y1="673" x2="145.3" y2="673" stroke="#111" stroke-width="1"/>
<line x1="178" y1="673" x2="198.2" y2="673" stroke="#111" stroke-width="1"/>
<line x1="126" y1="684.6" x2="145.3" y2="684.6" stroke="#111" stroke-width="1"/>
<line x1="178" y1="684.6" x2="198.2" y2="684.6" stroke="#111" stroke-width="1"/>
<line x1="126" y1="708.2" x2="145.3" y2="708.2" stroke="#111" stroke-width="1"/>
<line x1="178" y1="708.2" x2="198.2" y2="708.2" stroke="#111" stroke-width="1"/>
<line x1="126" y1="720.4" x2="145.3" y2="720.4" stroke="#111" stroke-width="1"/>
<line x1="178" y1="720.4" x2="198.2" y2="720.4" stroke="#111" stroke-width="1"/>
<line x1="230.8" y1="636.6" x2="383.5" y2="636.6" stroke="#111" stroke-width="1"/>
<line x1="230.8" y1="648.5" x2="383.5" y2="648.5" stroke="#111" stroke-width="1"/>
<line x1="230.8" y1="660.6" x2="383.5" y2="660.6" stroke="#111" stroke-width="1"/>
<line x1="230.8" y1="708.3" x2="367.5" y2="708.3" stroke="#111" stroke-width="1"/>
<line x1="230.8" y1="720.4" x2="367.5" y2="720.4" stroke="#111" stroke-width="1"/>
<rect x="93.5" y="591.2" width="32.5" height="167.1" rx="10" fill="#fff" stroke="#111" stroke-width="1"/>
<text transform="translate(109.75,604.49) scale(1,1.07)" x="0" y="0" font-size="9.6" text-anchor="middle">C</text>
<text transform="translate(109.75,616.29) scale(1,1.07)" x="0" y="0" font-size="9.6" text-anchor="middle">2</text>
<text transform="translate(109.75,627.59) scale(1,1.07)" x="0" y="0" font-size="9.6" text-anchor="middle">3</text>
<text transform="translate(109.75,640.69) scale(1,1.07)" x="0" y="0" font-size="9.6" stroke="#000" stroke-width="0.15" text-anchor="middle">1</text>
<text transform="translate(109.75,652.39) scale(1,1.07)" x="0" y="0" font-size="9.6" text-anchor="middle">E</text>
<text transform="translate(109.75,665.29) scale(1,1.07)" x="0" y="0" font-size="9.6" text-anchor="middle">-</text>
<text transform="translate(109.75,677.09) scale(1,1.07)" x="0" y="0" font-size="9.6" text-anchor="middle">+</text>
<text transform="translate(109.75,688.69) scale(1,1.07)" x="0" y="0" font-size="9.6" text-anchor="middle">R</text>
<text transform="translate(109.75,700.49) scale(1,1.07)" x="0" y="0" font-size="9.6" text-anchor="middle">Y</text>
<text transform="translate(109.75,712.29) scale(1,1.07)" x="0" y="0" font-size="9.6" text-anchor="middle">Wht</text>
<text transform="translate(109.75,724.49) scale(1,1.07)" x="0" y="0" font-size="9.6" stroke="#000" stroke-width="0.15" text-anchor="middle">Brn</text>
<text transform="translate(109.75,736.59) scale(1,1.07)" x="0" y="0" font-size="9.6" text-anchor="middle">Red</text>
<text transform="translate(109.75,748.29) scale(1,1.07)" x="0" y="0" font-size="9.6" text-anchor="middle">Org</text>
<rect x="145.3" y="591.2" width="32.7" height="167.1" rx="10" fill="#fff" stroke="#111" stroke-width="1"/>
<text transform="translate(161.65,604.49) scale(1,1.07)" x="0" y="0" font-size="9.6" text-anchor="middle">1</text>
<text transform="translate(161.65,616.29) scale(1,1.07)" x="0" y="0" font-size="9.6" text-anchor="middle">C</text>
<text transform="translate(161.65,627.59) scale(1,1.07)" x="0" y="0" font-size="9.6" text-anchor="middle">3</text>
<text transform="translate(161.65,640.69) scale(1,1.07)" x="0" y="0" font-size="9.6" stroke="#000" stroke-width="0.15" text-anchor="middle">2</text>
<text transform="translate(161.65,652.39) scale(1,1.07)" x="0" y="0" font-size="9.6" text-anchor="middle">E</text>
<text transform="translate(161.65,665.29) scale(1,1.07)" x="0" y="0" font-size="9.6" text-anchor="middle">-</text>
<text transform="translate(161.65,677.09) scale(1,1.07)" x="0" y="0" font-size="9.6" text-anchor="middle">+</text>
<text transform="translate(161.65,688.69) scale(1,1.07)" x="0" y="0" font-size="9.6" text-anchor="middle">R</text>
<text transform="translate(161.65,700.49) scale(1,1.07)" x="0" y="0" font-size="9.6" text-anchor="middle">Y</text>
<text transform="translate(161.65,712.29) scale(1,1.07)" x="0" y="0" font-size="9.6" text-anchor="middle">Wht</text>
<text transform="translate(161.65,724.49) scale(1,1.07)" x="0" y="0" font-size="9.6" stroke="#000" stroke-width="0.15" text-anchor="middle">Red</text>
<text transform="translate(161.65,736.59) scale(1,1.07)" x="0" y="0" font-size="9.6" text-anchor="middle">Brn</text>
<text transform="translate(161.65,748.29) scale(1,1.07)" x="0" y="0" font-size="9.6" text-anchor="middle">Org</text>
<rect x="198.2" y="591.2" width="32.6" height="167.1" rx="10" fill="#fff" stroke="#111" stroke-width="1"/>
<text transform="translate(214.5,604.49) scale(1,1.07)" x="0" y="0" font-size="9.6" text-anchor="middle">1</text>
<text transform="translate(214.5,616.29) scale(1,1.07)" x="0" y="0" font-size="9.6" text-anchor="middle">2</text>
<text transform="translate(214.5,627.59) scale(1,1.07)" x="0" y="0" font-size="9.6" text-anchor="middle">C</text>
<text transform="translate(214.5,640.69) scale(1,1.07)" x="0" y="0" font-size="9.6" stroke="#000" stroke-width="0.15" text-anchor="middle">3</text>
<text transform="translate(214.5,652.39) scale(1,1.07)" x="0" y="0" font-size="9.6" text-anchor="middle">E</text>
<text transform="translate(214.5,665.29) scale(1,1.07)" x="0" y="0" font-size="9.6" text-anchor="middle">-</text>
<text transform="translate(214.5,677.09) scale(1,1.07)" x="0" y="0" font-size="9.6" text-anchor="middle">+</text>
<text transform="translate(214.5,688.69) scale(1,1.07)" x="0" y="0" font-size="9.6" text-anchor="middle">R</text>
<text transform="translate(214.5,700.49) scale(1,1.07)" x="0" y="0" font-size="9.6" text-anchor="middle">Y</text>
<text transform="translate(214.5,712.29) scale(1,1.07)" x="0" y="0" font-size="9.6" text-anchor="middle">Wht</text>
<text transform="translate(214.5,724.49) scale(1,1.07)" x="0" y="0" font-size="9.6" stroke="#000" stroke-width="0.15" text-anchor="middle">Org</text>
<text transform="translate(214.5,736.59) scale(1,1.07)" x="0" y="0" font-size="9.6" text-anchor="middle">Red</text>
<text transform="translate(214.5,748.29) scale(1,1.07)" x="0" y="0" font-size="9.6" text-anchor="middle">Brn</text>
<text transform="translate(109.2,587.03) scale(1,1.14)" x="0" y="0" font-size="9.6" text-anchor="middle" textLength="46.5" lengthAdjust="spacingAndGlyphs">LEF-3L #1</text>
<text transform="translate(161.8,587.03) scale(1,1.14)" x="0" y="0" font-size="9.6" text-anchor="middle" textLength="46.5" lengthAdjust="spacingAndGlyphs">LEF-3L #2</text>
<text transform="translate(214.1,587.03) scale(1,1.14)" x="0" y="0" font-size="9.6" text-anchor="middle" textLength="46.5" lengthAdjust="spacingAndGlyphs">LEF-3L #3</text>
<rect x="43.7" y="651.8" width="27.0" height="33.6" rx="5" fill="#fff" stroke="#111" stroke-width="1"/>
<text transform="translate(57.1,665.83) scale(1,1.14)" x="0" y="0" font-size="9.6" text-anchor="middle">-</text>
<text transform="translate(57,678.08) scale(1,1.14)" x="0" y="0" font-size="10" text-anchor="middle">+</text>
<text transform="translate(57.2,647.04) scale(1,1.12)" x="0" y="0" font-size="9.8" text-anchor="middle" textLength="46.7" lengthAdjust="spacingAndGlyphs">PS-1225UL</text>
<text transform="translate(56.8,697.55) scale(1,1.04)" x="0" y="0" font-size="9.2" stroke="#000" stroke-width="0.1" text-anchor="middle" letter-spacing="0.55">12V DC</text>
<text transform="translate(56.8,709.55) scale(1,1.04)" x="0" y="0" font-size="9.2" stroke="#000" stroke-width="0.1" text-anchor="middle" letter-spacing="0.55">POWER</text>
<text transform="translate(56.8,721.95) scale(1,1.04)" x="0" y="0" font-size="9.2" stroke="#000" stroke-width="0.1" text-anchor="middle" letter-spacing="0.55">ONLY</text>
<rect x="383.5" y="627.6" width="27.1" height="42.4" rx="5" fill="none" stroke="#111" stroke-width="1"/>
<text transform="translate(397,639.99) scale(1,1.14)" x="0" y="0" font-size="9" text-anchor="middle">1</text>
<text transform="translate(397.2,652.09) scale(1,1.14)" x="0" y="0" font-size="9" text-anchor="middle">E</text>
<text transform="translate(397,663.59) scale(1,1.14)" x="0" y="0" font-size="9" text-anchor="middle">-</text>
<text transform="translate(397.2,613.03) scale(1,1.14)" x="0" y="0" font-size="9.6" text-anchor="middle" textLength="25.5" lengthAdjust="spacingAndGlyphs">LE-D/</text>
<text transform="translate(397.2,623.83) scale(1,1.14)" x="0" y="0" font-size="9.6" text-anchor="middle" textLength="29.2" lengthAdjust="spacingAndGlyphs">LE-DA</text>
<text x="242.4" y="705.9" font-size="6.3" textLength="115.4" lengthAdjust="spacingAndGlyphs">12V DC when "key" button is pressed</text>
<rect x="367.5" y="701.4" width="36.5" height="24.5" rx="0" fill="#fff" stroke="#111" stroke-width="1"/>
<text x="385.75" y="711.2" font-size="7.6" text-anchor="middle" textLength="23.7" lengthAdjust="spacingAndGlyphs">RY-PA</text>
<text x="385.75" y="721.98" font-size="7.6" text-anchor="middle" textLength="20.2" lengthAdjust="spacingAndGlyphs">Dr. #3</text>
<text x="355.6" y="717.5" font-size="5.8" fill="#4a4a4a" textLength="7.7" lengthAdjust="spacingAndGlyphs">Blk</text>
<text x="411" y="717.5" font-size="5.8" fill="#4a4a4a" textLength="9.1" lengthAdjust="spacingAndGlyphs">Yel</text>
<line x1="404" y1="708.3" x2="452.6" y2="708.3" stroke="#111" stroke-width="1"/>
<polyline points="404,720.9 432.2,720.9 432.2,744.2" fill="none" stroke="#111" stroke-width="1" stroke-linejoin="miter"/>
<polyline points="441.8,744.2 441.8,720.9 452.6,720.9" fill="none" stroke="#111" stroke-width="1" stroke-linejoin="miter"/>
<rect x="424.6" y="741.5" width="24.8" height="18.3" rx="0" fill="#fff" stroke="#111" stroke-width="1"/>
<circle cx="432.2" cy="747.9" r="3.6" fill="#fff" stroke="#111" stroke-width="0.7"/>
<line x1="429.96799999999996" y1="745.668" x2="434.432" y2="750.132" stroke="#111" stroke-width="0.6"/>
<line x1="429.96799999999996" y1="750.132" x2="434.432" y2="745.668" stroke="#111" stroke-width="0.6"/>
<circle cx="441.8" cy="747.9" r="3.6" fill="#fff" stroke="#111" stroke-width="0.7"/>
<line x1="439.568" y1="745.668" x2="444.03200000000004" y2="750.132" stroke="#111" stroke-width="0.6"/>
<line x1="439.568" y1="750.132" x2="444.03200000000004" y2="745.668" stroke="#111" stroke-width="0.6"/>
<text x="417.3" y="768.2" font-size="5.8" textLength="41" lengthAdjust="spacingAndGlyphs">AC Transformer</text>
<polyline points="452.6,699.6 463.5,699.6" fill="none" stroke="#111" stroke-width="1" stroke-linejoin="miter"/>
<polyline points="452.6,735.8 463.5,735.8" fill="none" stroke="#111" stroke-width="1" stroke-linejoin="miter"/>
<line x1="452.6" y1="699.6" x2="452.6" y2="735.8" stroke="#111" stroke-width="1"/>
<line x1="463.5" y1="699.6" x2="463.5" y2="735.8" stroke="#111" stroke-width="1.5"/>
<rect x="458.5" y="706.5" width="6.2" height="17.8" rx="0" fill="#bdbdbd" stroke="#111" stroke-width="0.9"/>
<circle cx="473.2" cy="707.8" r="6.3" fill="#fff" stroke="#111" stroke-width="0.7"/>
<text x="474.09999999999997" y="710.08" font-size="8.2" text-anchor="middle">A</text>
<circle cx="271.4" cy="744.9" r="6.2" fill="#fff" stroke="#111" stroke-width="0.7"/>
<text x="272.29999999999995" y="747.18" font-size="8.2" text-anchor="middle">A</text>
<text transform="translate(284.7,747.2) scale(1,1.14)" x="0" y="0" font-size="7" textLength="118.8" lengthAdjust="spacingAndGlyphs">Momentary dry closure when station is</text>
<text transform="translate(284.7,754.7) scale(1,1.14)" x="0" y="0" font-size="7" textLength="113.7" lengthAdjust="spacingAndGlyphs">selected and "key" button is pressed.</text>
<text transform="translate(284.7,763.2) scale(1,1.14)" x="0" y="0" font-size="7" textLength="95.4" lengthAdjust="spacingAndGlyphs">Connect to door strike &amp; power.</text>
<text transform="translate(456.7,551.7) scale(1,1.06)" x="0" y="0" font-size="9.6" stroke="#000" stroke-width="0.15" textLength="118.1" lengthAdjust="spacingAndGlyphs">Optional Remote station:</text>
<text transform="translate(508.6,565.73) scale(1,1.14)" x="0" y="0" font-size="9.6" text-anchor="middle">LS-NVP</text>
<text transform="translate(508.6,578.03) scale(1,1.14)" x="0" y="0" font-size="9.6" text-anchor="middle">LE-SS</text>
<line x1="493.2" y1="592.9" x2="476.2" y2="592.9" stroke="#111" stroke-width="1.2"/>
<polyline points="482.2,589.9 476.2,592.9 482.2,595.9" fill="none" stroke="#111" stroke-width="1.3" stroke-linejoin="miter"/>
<line x1="493.2" y1="605.3" x2="476.2" y2="605.3" stroke="#111" stroke-width="1.2"/>
<polyline points="482.2,602.3 476.2,605.3 482.2,608.3" fill="none" stroke="#111" stroke-width="1.3" stroke-linejoin="miter"/>
<line x1="493.2" y1="617.1" x2="476.2" y2="617.1" stroke="#111" stroke-width="1.2"/>
<polyline points="482.2,614.1 476.2,617.1 482.2,620.1" fill="none" stroke="#111" stroke-width="1.3" stroke-linejoin="miter"/>
<rect x="493.2" y="582.9" width="31.5" height="42.7" rx="4.5" fill="#fff" stroke="#111" stroke-width="1"/>
<text transform="translate(509,596) scale(1,1.05)" x="0" y="0" font-size="9.2" text-anchor="middle">Red</text>
<text transform="translate(509,608.4) scale(1,1.05)" x="0" y="0" font-size="9.2" text-anchor="middle">Blk</text>
<text transform="translate(509,620.5) scale(1,1.05)" x="0" y="0" font-size="9.2" text-anchor="middle">Grn</text>
<text transform="translate(451.6,596.5) scale(1,1.14)" x="0" y="0" font-size="9.4" textLength="19.1" lengthAdjust="spacingAndGlyphs">To #</text>
<text transform="translate(451,608.7) scale(1,1.14)" x="0" y="0" font-size="9.4" textLength="19.3" lengthAdjust="spacingAndGlyphs">To E</text>
<text transform="translate(454.1,620) scale(1,1.14)" x="0" y="0" font-size="9.4" textLength="17.1" lengthAdjust="spacingAndGlyphs">To -</text>
<text transform="translate(558.2,773) scale(1,1.14)" x="0" y="0" font-size="8" textLength="17.8" lengthAdjust="spacingAndGlyphs">Pg. 3</text>
<g opacity="0.26" fill="#F7941E">
<rect x="198" y="299" width="7.5" height="7.2" fill="#F7941E"/>
<rect x="212" y="304.7" width="9.9" height="9.8" fill="#F7941E"/>
<rect x="198" y="316" width="11.6" height="10.3" fill="#F7941E"/>
<rect x="227" y="318" width="14.8" height="13.2" fill="#F7941E"/>
<rect x="213.5" y="327.3" width="20.6" height="21.5" fill="#F7941E"/>
<polygon points="221.2,354.7 241.8,354.7 241.8,338.5 301.5,349.7 301.5,478.2 221.2,461.4" fill="#F7941E"/>
</g>
<g opacity="0.17" fill="#000">
<polygon points="201.5,352.3 212.6,352.3 212.6,466 266,476.5 266,479.5 201.5,475" fill="#000"/>
<polygon points="309.4,349.7 389.2,333.8 389.2,462.7 309.4,473.2" fill="#000"/>
<polygon points="398.1,352 410,352 410,472.5 332,482.5 332,479 398.1,469.5" fill="#000"/>
<text x="206.3" y="504" font-size="24.6" font-weight="bold" stroke="#000" stroke-width="2.1" stroke-linejoin="round" textLength="200.5" lengthAdjust="spacingAndGlyphs">UMLIB.COM</text>
</g>
<rect x="383.5" y="477" width="37.1" height="21.3" rx="0" fill="#fff" stroke="#111" stroke-width="1"/>
<text x="402.05" y="485.52" font-size="7.6" text-anchor="middle" textLength="23.7" lengthAdjust="spacingAndGlyphs">RY-PA</text>
<text x="402.05" y="494.89" font-size="7.6" text-anchor="middle" textLength="20.2" lengthAdjust="spacingAndGlyphs">Dr. #2</text>
</svg></body></html>
